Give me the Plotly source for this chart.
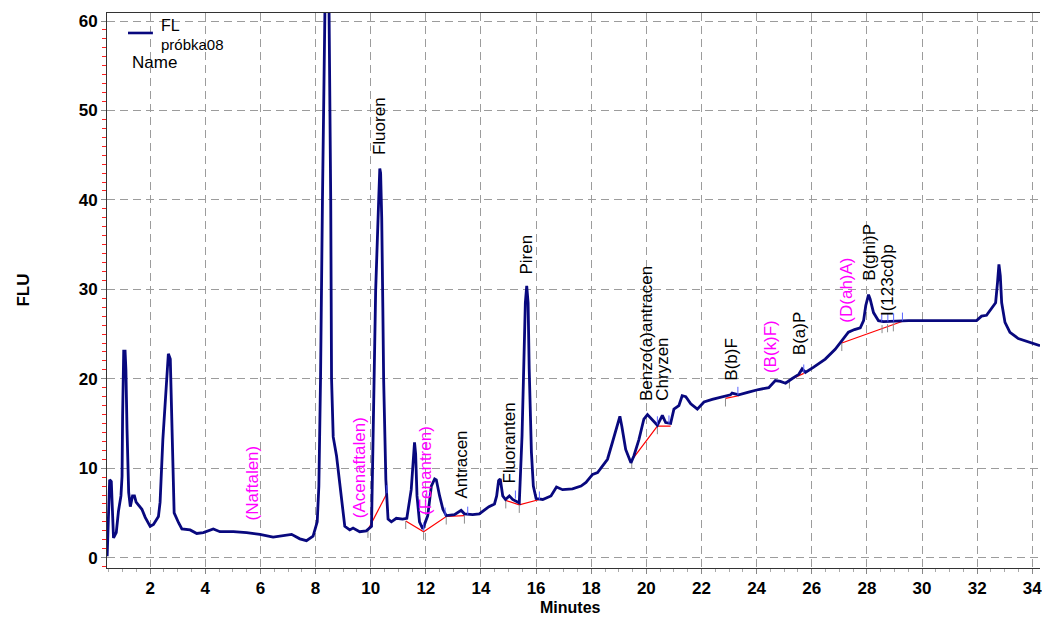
import plotly.graph_objects as go

# ---- chromatogram trace (minutes, FLU) ----
time_min = [0.44, 0.53, 0.59, 0.67, 0.77, 0.85, 0.94, 0.98, 1.00, 1.04, 1.09, 1.12, 1.16, 1.22, 1.28,
            1.36, 1.43, 1.49, 1.70, 1.82, 2.00, 2.12, 2.30, 2.36, 2.46, 2.54, 2.61, 2.66, 2.73, 2.76,
            2.82, 2.87, 3.03, 3.15, 3.45, 3.69, 3.93, 4.29, 4.53, 5.02, 5.50, 5.98, 6.46, 7.13, 7.43,
            7.67, 7.91, 8.06, 8.12, 8.18, 8.25, 8.33, 8.41, 8.49, 8.55, 8.58, 8.64, 8.76, 8.82, 8.94,
            9.06, 9.24, 9.36, 9.60, 9.84, 10.03, 10.08, 10.14, 10.18, 10.29, 10.33, 10.36, 10.40, 10.44,
            10.47, 10.55, 10.63, 10.75, 10.93, 11.16, 11.31, 11.47, 11.56, 11.59, 11.63, 11.68, 11.77,
            11.89, 12.07, 12.20, 12.32, 12.38, 12.50, 12.62, 12.74, 13.04, 13.28, 13.40, 13.70, 13.94,
            14.29, 14.49, 14.57, 14.64, 14.70, 14.79, 14.89, 15.03, 15.15, 15.39, 15.49, 15.55, 15.61,
            15.66, 15.71, 15.75, 15.83, 15.90, 16.00, 16.24, 16.54, 16.74, 16.96, 17.32, 17.63, 17.81,
            18.05, 18.23, 18.41, 18.59, 18.77, 18.95, 19.04, 19.11, 19.25, 19.44, 19.55, 19.73, 19.91,
            20.04, 20.22, 20.40, 20.58, 20.70, 20.88, 21.00, 21.18, 21.30, 21.43, 21.61, 21.85, 22.09,
            22.39, 22.75, 23.05, 23.11, 23.35, 23.71, 24.07, 24.44, 24.68, 24.86, 25.05, 25.28, 25.53,
            25.65, 25.77, 26.07, 26.49, 26.85, 27.09, 27.33, 27.55, 27.76, 27.88, 27.96, 28.06, 28.12,
            28.24, 28.42, 28.60, 29.27, 29.51, 31.98, 32.16, 32.34, 32.52, 32.67, 32.74, 32.79, 32.84,
            32.89, 33.01, 33.19, 33.49, 33.85, 34.28]
signal_flu = [0.15, 8.7, 8.5, 2.2, 2.8, 5.2, 6.9, 9.1, 15.8, 23.1, 23.1, 21.0, 14.4, 7.3, 5.7,
              6.9, 6.9, 6.2, 5.4, 4.5, 3.5, 3.7, 4.6, 6.2, 13.2, 17.0, 21.1, 22.8, 22.2, 18.1,
              9.9, 5.0, 3.9, 3.2, 3.1, 2.7, 2.8, 3.2, 2.9, 2.9, 2.8, 2.6, 2.3, 2.6, 2.1,
              1.9, 2.4, 4.0, 8.0, 20.0, 40.0, 61.0, 78.0, 61.0, 40.0, 20.0, 13.5, 11.4, 9.9, 6.4,
              3.5, 3.1, 3.3, 2.9, 3.0, 3.5, 12.5, 20.0, 29.9, 40.0, 43.5, 43.0, 38.0, 28.0,
              19.9, 8.7, 4.3, 4.0, 4.4, 4.3, 4.4, 7.6, 12.5, 12.9, 11.6, 6.9, 4.0,
              3.2, 4.7, 8.0, 8.8, 8.7, 6.9, 5.4, 4.7, 4.8, 5.3, 4.9, 4.8, 4.9,
              5.7, 6.0, 6.9, 8.6, 8.8, 6.9, 6.5, 6.9, 6.5, 6.1, 13.6, 21.1, 28.5,
              30.4, 28.5, 21.1, 11.8, 8.0, 6.6, 6.5, 6.9, 7.9, 7.6, 7.7, 8.0, 8.4,
              9.3, 9.5, 10.3, 11.0, 12.9, 14.9, 15.8, 14.7, 12.1, 10.6, 11.4, 13.2, 15.5,
              16.0, 15.4, 14.8, 15.9, 15.1, 15.0, 16.6, 17.0, 18.1, 18.0, 17.2, 16.6, 17.4,
              17.7, 18.0, 18.2, 18.4, 18.2, 18.5, 18.8, 19.0, 19.8, 19.7, 19.5, 20.0, 20.5,
              21.1, 20.7, 21.3, 22.2, 23.3, 24.2, 25.2, 25.5, 25.7, 26.5, 28.2, 29.4, 28.9,
              27.4, 26.5, 26.4, 26.5, 26.5, 26.5, 27.0, 27.1, 27.8, 28.5, 30.8, 32.8, 31.5,
              28.5, 26.3, 25.2, 24.5, 24.1, 23.7]

# ---- integration baselines (red) ----
base_t = [9.90, 10.59, None, 11.27, 11.92, 12.74, 13.40, None, 14.90, 15.39, 16.12, None,
          19.47, 20.40, 20.88, None, 22.87, 23.35, None, 25.16, 25.71, None, 27.09, 29.27]
base_y = [3.1, 7.2, None, 4.1, 2.9, 4.6, 4.7, None, 6.4, 5.9, 6.5, None,
          10.9, 14.7, 14.7, None, 17.8, 18.1, None, 19.8, 20.6, None, 24.0, 26.4]

# ---- peak start (gray) and end (blue) markers ----
start_t = [9.90, 11.27, 11.92, 12.74, 13.40, 14.90, 15.39, 19.47, 20.40, 22.87, 25.19, 27.09, 28.55, 28.75, 28.96]
start_y = [3.1, 4.1, 2.9, 4.6, 4.7, 6.4, 5.9, 10.9, 14.7, 17.8, 19.8, 24.0, 26.0, 26.1, 26.2]
end_t = [10.59, 11.92, 12.70, 13.52, 15.25, 16.12, 20.40, 20.82, 23.32, 25.71, 28.54, 28.76, 28.97, 29.29]
end_y = [7.2, 3.0, 4.7, 4.8, 6.6, 6.5, 14.9, 15.0, 18.2, 20.7, 26.4, 26.4, 26.4, 26.5]

# ---- peak names ----
peak_names = ["(Naftalen)", "(Acenaftalen)", "Fluoren", "(Fenantren)", "Antracen", "Fluoranten",
              "Piren", "Benzo(a)antracen", "Chryzen", "B(b)F", "(B(k)F)", "B(a)P", "(D(ah)A)",
              "B(ghi)P", "I(123cd)p"]
peak_t = [5.70, 9.60, 10.34, 12.01, 13.28, 15.05, 15.66, 20.01, 20.58, 23.10, 24.50, 25.55, 27.28, 28.08, 28.77]
peak_y = [3.9, 4.2, 44.8, 4.5, 6.4, 8.1, 31.4, 17.3, 17.3, 19.6, 20.4, 22.4, 26.0, 30.7, 26.8]
peak_magenta = [True, True, False, True, False, False, False, False, False, False, True, False, True, False, False]

x_ticks = list(range(2, 35, 2))
y_ticks = [0, 10, 20, 30, 40, 50, 60]

FONT = "Arial, Liberation Sans, sans-serif"

fig = go.Figure()
fig.add_trace(go.Scatter(x=base_t, y=base_y, mode="lines", line=dict(color="#ff0000", width=1.2),
                         hoverinfo="skip", showlegend=False, connectgaps=False))
fig.add_trace(go.Scatter(x=start_t, y=start_y, mode="markers", marker=dict(size=0.1, color="rgba(0,0,0,0)"),
                         error_y=dict(type="data", symmetric=False, array=[0] * len(start_t),
                                      arrayminus=[0.9] * len(start_t), color="#8c8c8c", thickness=1, width=0),
                         hoverinfo="skip", showlegend=False))
fig.add_trace(go.Scatter(x=time_min, y=signal_flu, mode="lines", line=dict(color="#08087e", width=2.8),
                         name="FL", showlegend=False))
fig.add_trace(go.Scatter(x=end_t, y=end_y, mode="markers", marker=dict(size=0.1, color="rgba(0,0,0,0)"),
                         error_y=dict(type="data", symmetric=False, array=[0.9] * len(end_t),
                                      arrayminus=[0] * len(end_t), color="#5a64ff", thickness=1, width=0),
                         hoverinfo="skip", showlegend=False))

annotations = []
for name, t, y, mag in zip(peak_names, peak_t, peak_y, peak_magenta):
    annotations.append(dict(x=t, y=y, xref="x", yref="y", text=name, showarrow=False, textangle=-90,
                            xanchor="center", yanchor="bottom",
                            font=dict(family=FONT, size=17, color="#ff00ff" if mag else "#000000")))

# legend-like block
annotations += [
    dict(x=0.0556, y=0.9766, xref="paper", yref="paper", text="FL", showarrow=False, xanchor="left",
         yanchor="middle", font=dict(family=FONT, size=16, color="#000")),
    dict(x=0.0556, y=0.944, xref="paper", yref="paper", text="próbka08", showarrow=False, xanchor="left",
         yanchor="middle", font=dict(family=FONT, size=15, color="#000")),
    dict(x=0.0246, y=0.9117, xref="paper", yref="paper", text="Name", showarrow=False, xanchor="left",
         yanchor="middle", font=dict(family=FONT, size=17, color="#000")),
    dict(x=-0.09, y=0.5, xref="paper", yref="paper", text="FLU", showarrow=False, textangle=-90,
         xanchor="center", yanchor="middle", font=dict(family=FONT, size=17, color="#000", weight="bold")),
    dict(x=0.497, y=-0.071, xref="paper", yref="paper", text="Minutes", showarrow=False,
         xanchor="center", yanchor="middle", font=dict(family=FONT, size=16, color="#000", weight="bold")),
]

fig.update_layout(
    width=1042, height=619,
    margin=dict(l=107, r=0, t=13, b=51),
    paper_bgcolor="white", plot_bgcolor="white",
    font=dict(family=FONT, color="#000"),
    annotations=annotations,
    shapes=[dict(type="line", xref="paper", yref="paper", x0=0.0225, x1=0.0492, y0=0.964, y1=0.964,
                 line=dict(color="#08087e", width=2.6))],
    showlegend=False,
)
fig.update_xaxes(range=[0.434, 34.28], tickvals=x_ticks, ticktext=[str(v) for v in x_ticks],
                 showgrid=True, gridcolor="#9c9c9c", griddash="8px,5px", gridwidth=1,
                 showline=True, linecolor="#333", linewidth=1, mirror=True,
                 ticks="outside", ticklen=5, tickcolor="#888", ticklabeloverflow="allow",
                 minor=dict(dtick=0.5, tick0=0, ticks="outside", ticklen=3, tickcolor="#aaa", showgrid=False),
                 tickfont=dict(family=FONT, size=17, color="#000", weight="bold"), zeroline=False)
fig.update_yaxes(range=[-1.16, 60.9], tickvals=y_ticks, ticktext=[str(v) for v in y_ticks],
                 showgrid=True, gridcolor="#9c9c9c", griddash="8px,5px", gridwidth=1,
                 showline=True, linecolor="#333", linewidth=1, mirror=False,
                 ticks="outside", ticklen=5, tickcolor="#888",
                 minor=dict(dtick=1, tick0=0, ticks="outside", ticklen=4, tickcolor="#ff2020", showgrid=False),
                 tickfont=dict(family=FONT, size=17, color="#000", weight="bold"), zeroline=False)

fig.write_html("out.html")
